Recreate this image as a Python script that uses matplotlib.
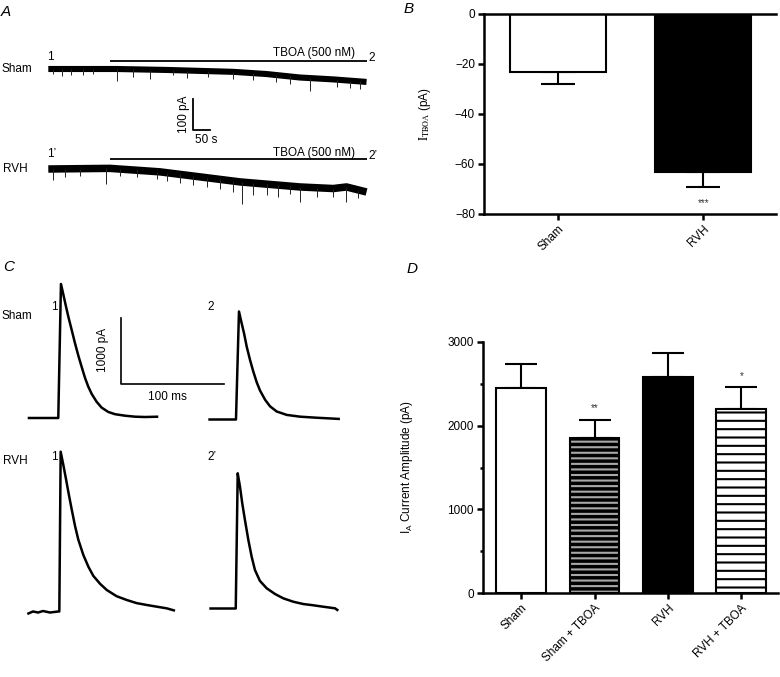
import numpy as np
import matplotlib
matplotlib.use('Agg')
import matplotlib.pyplot as plt

plt.rcParams['font.family'] = ['Liberation Sans', 'DejaVu Sans']
plt.rcParams['mathtext.fontset'] = 'custom'
plt.rcParams['mathtext.rm'] = 'Liberation Sans'
plt.rcParams['mathtext.it'] = 'Liberation Sans:italic'
plt.rcParams['hatch.linewidth'] = 1.5

# ------------------------------------------------------------------ data
# Panel A: holding current drift (time s, current pA relative to start)
a_sham_t = [0, 201, 348, 544, 642, 740, 838, 936]
a_sham_i = [0, 0, -3, -9, -16, -27, -33, -41]
a_rvh_t = [0, 181, 328, 446, 564, 740, 838, 877, 936]
a_rvh_i = [0, 2, -9, -25, -41, -57, -62, -57, -73]
# spontaneous inward events (time s, depth pA below the trace)
a_sham_spk_t = [15, 39, 67, 103, 132, 203, 248, 299, 368, 407, 470, 544, 603,
                671, 711, 769, 848, 887, 916]
a_sham_spk_d = [16, 23, 19, 19, 16, 39, 23, 30, 15, 23, 20, 22, 23, 23, 24,
                41, 23, 23, 24]
a_rvh_spk_t = [15, 49, 93, 170, 211, 260, 319, 348, 387, 426, 466, 505, 544,
               569, 603, 642, 676, 711, 740, 789, 838, 877, 911]
a_rvh_spk_d = [35, 25, 23, 48, 22, 22, 25, 27, 27, 30, 30, 30, 34, 69, 39, 35,
               38, 24, 48, 30, 27, 48, 27]
a_tboa_on, a_tboa_off = 181, 936

# Panel B: I_TBOA (pA)
b_groups = ['Sham', 'RVH']
b_mean = [-23, -63]
b_sem = [5, 6]

# Panel C: I_A current traces (time ms, current pA)
c_sham1_t = [0, 29.6, 32.2, 34.5, 36.8, 39.3, 42.6, 45.8, 49.0, 52.3, 55.5,
             58.7, 62.0, 66.8, 71.6, 78.0, 84.5, 94.2, 103.9, 113.6, 126.4]
c_sham1_i = [0, 0, 2040, 1880, 1715, 1545, 1339, 1137, 950, 775, 610, 475,
             365, 245, 158, 92, 58, 35, 20, 15, 20]
c_sham2_t = [0, 26.8, 29.7, 32.3, 34.6, 37.2, 40.4, 43.6, 46.9, 50.1, 55.0,
             59.8, 66.2, 75.9, 88.8, 104.9, 127.4]
c_sham2_i = [0, 0, 1644, 1464, 1312, 1108, 906, 728, 565, 440, 300, 200, 122,
             70, 43, 27, 8]
c_rvh1_t = [0, 5.5, 10.4, 15.2, 22.0, 30.0, 31.0, 32.3, 34.9, 37.5, 39.7,
            43.0, 46.2, 49.4, 54.2, 59.1, 63.9, 70.4, 76.9, 86.5, 96.2, 105.9,
            115.6, 125.3, 134.9, 143.0]
c_rvh1_i = [-30, 8, -8, 15, -8, 8, 8, 2440, 2237, 2020, 1830, 1560, 1310,
            1100, 870, 690, 550, 430, 335, 240, 183, 135, 107, 81, 56, 20]
c_rvh2_t = [0, 25.6, 27.5, 29.7, 31.9, 34.5, 37.8, 41.0, 44.2, 49.0, 55.6,
            63.6, 71.6, 81.3, 91.0, 100.7, 110.4, 121.7, 124.9]
c_rvh2_i = [0, 0, 2058, 1854, 1601, 1347, 1043, 788, 586, 420, 307, 221, 155,
            103, 68, 49, 27, 3, -33]

# Panel D: I_A current amplitude (pA)
d_groups = ['Sham', 'Sham + TBOA', 'RVH', 'RVH + TBOA']
d_mean = [2446, 1848, 2577, 2202]
d_sem = [286, 219, 287, 256]
d_sig = ['', '**', '', '*']

# ------------------------------------------------------------------ layout
W, H = 780, 677
fig = plt.figure(figsize=(W / 100, H / 100), dpi=100)


def fp(x, y):
    return x / W, 1 - y / H


def ftext(x, y, s, **kw):
    kw.setdefault('fontsize', 8.5)
    kw.setdefault('ha', 'left')
    kw.setdefault('va', 'center')
    fig.text(*fp(x, y), s, **kw)


# ---------------- Panel A
A_S = 50 / 17.0        # s per pixel
A_PA = 100 / 31.5      # pA per pixel
A_TOP, A_BOT = 30, 230
axA = fig.add_axes([0, 1 - A_BOT / H, 390 / W, (A_BOT - A_TOP) / H])
axA.set_xlim(0, 390 * A_S)
axA.set_ylim(0, (A_BOT - A_TOP) * A_PA)
axA.axis('off')


def a_xy(px, py):
    return px * A_S, (A_BOT - py) * A_PA


def a_trace(t, i, st, sd, ox, oy, lw):
    x0, y0 = a_xy(ox, oy)
    t = np.asarray(t, float)
    i = np.asarray(i, float)
    axA.plot(x0 + t, y0 + i, color='black', lw=lw, solid_capstyle='butt')
    st = np.asarray(st, float)
    base = np.interp(st, t, i)
    axA.vlines(x0 + st, y0 + base - np.asarray(sd, float), y0 + base,
               color='#222222', lw=0.7)


a_trace(a_sham_t, a_sham_i, a_sham_spk_t, a_sham_spk_d, 48.3, 69, 4.4)
a_trace(a_rvh_t, a_rvh_i, a_rvh_spk_t, a_rvh_spk_d, 48.3, 169, 5.4)

for oy, by in [(69, 60.7), (169, 159)]:
    x0, _ = a_xy(48.3, oy)
    _, yb = a_xy(0, by)
    axA.hlines(yb, x0 + a_tboa_on, x0 + a_tboa_off, color='black', lw=1.3)

# scale bar A (100 pA, 50 s)
sx, sy = a_xy(193.3, 130)
axA.plot([sx, sx, sx + 50], [sy + 100, sy, sy], color='black', lw=1.3)

ftext(6.3, 12, 'A', fontsize=11, style='italic', ha='center')
ftext(1, 69, 'Sham')
ftext(3, 169, 'RVH')
ftext(47, 57, '1')
ftext(368, 58, '2')
ftext(47, 154, '1\u2019')
ftext(368, 156, '2\u2019')
ftext(355, 53, 'TBOA (500 nM)', ha='right')
ftext(355, 153, 'TBOA (500 nM)', ha='right')
ftext(184, 114, '100 pA', rotation=90, ha='center')
ftext(206, 140, '50 s', ha='center')

# ---------------- Panel C
C_MS = 1 / 1.033   # ms per pixel
C_PA = 15.22       # pA per pixel
C_TOP, C_BOT = 262, 640
axC = fig.add_axes([0, 1 - C_BOT / H, 390 / W, (C_BOT - C_TOP) / H])
axC.set_xlim(0, 390 * C_MS)
axC.set_ylim(0, (C_BOT - C_TOP) * C_PA)
axC.axis('off')


def c_xy(px, py):
    return px * C_MS, (C_BOT - py) * C_PA


for t, i, ox, oy in [(c_sham1_t, c_sham1_i, 27.7, 418),
                     (c_sham2_t, c_sham2_i, 208.3, 419.5),
                     (c_rvh1_t, c_rvh1_i, 27.3, 612),
                     (c_rvh2_t, c_rvh2_i, 209.3, 608.5)]:
    x0, y0 = c_xy(ox, oy)
    axC.plot(x0 + np.asarray(t), y0 + np.asarray(i), color='black', lw=1.8,
             solid_joinstyle='round', solid_capstyle='butt')

cx, cy = c_xy(120.7, 384)
axC.plot([cx, cx, cx + 100], [cy + 1000, cy, cy], color='black', lw=1.2)

ftext(9, 267, 'C', fontsize=11, style='italic', ha='center')
ftext(1, 316, 'Sham')
ftext(3, 461, 'RVH')
ftext(51, 307, '1')
ftext(207, 307, '2')
ftext(51, 457, '1')
ftext(207, 457, '2\u2019')
ftext(103, 350, '1000 pA', rotation=90, ha='center')
ftext(167, 397, '100 ms', ha='center')

# ---------------- Panel B
SP_LW = 1.8
axB = fig.add_axes([484 / W, 1 - 214 / H, 292 / W, 200 / H])
xb = np.arange(len(b_groups))
axB.errorbar(xb, b_mean, yerr=[b_sem, [0] * len(b_sem)], fmt='none',
             ecolor='black', elinewidth=1.5, capsize=12.5, capthick=1.5,
             zorder=1)
axB.bar(xb, b_mean, width=0.66, color=['white', 'black'], edgecolor='black',
        linewidth=1.5, zorder=2)
axB.set_xlim(-0.51, 1.5)
axB.set_ylim(-80, 0)
axB.set_yticks([0, -20, -40, -60, -80])
axB.set_xticks(xb)
axB.set_xticklabels(b_groups, rotation=45, ha='right', rotation_mode='anchor')
axB.spines['right'].set_visible(False)
for s in ['left', 'top', 'bottom']:
    axB.spines[s].set_linewidth(SP_LW)
axB.tick_params(axis='both', width=SP_LW, length=4.5, labelsize=8.5,
                top=False, right=False, pad=2)
axB.set_ylabel(r'$\mathrm{I}_{\mathrm{TBOA}}$ (pA)', fontsize=8.5,
               math_fontfamily='stix')
axB.yaxis.set_label_coords(-0.175, 0.5)
axB.text(1, b_mean[1] - b_sem[1] - 6.5, '***', ha='center', va='center',
         fontsize=7, color='#333333')
ftext(409, 9, 'B', fontsize=11, style='italic', ha='center')

# ---------------- Panel D
axD = fig.add_axes([483 / W, 1 - 593 / H, 295 / W, 251 / H])
xd = np.arange(len(d_groups))
axD.errorbar(xd, d_mean, yerr=[[0] * len(d_sem), d_sem], fmt='none',
             ecolor='black', elinewidth=1.5, capsize=11.5, capthick=1.5,
             zorder=1)
# Sham
axD.bar(xd[0], d_mean[0], width=0.68, color='white', edgecolor='black',
        linewidth=1.5, zorder=2)
# Sham + TBOA: dense light stripes on black
axD.bar(xd[1], d_mean[1], width=0.68, color='black', edgecolor='#a8a8a8',
        hatch='---', linewidth=0, zorder=2)
axD.bar(xd[1], d_mean[1], width=0.68, color='none', edgecolor='black',
        linewidth=1.5, zorder=3)
# RVH
axD.bar(xd[2], d_mean[2], width=0.68, color='black', edgecolor='black',
        linewidth=1.5, zorder=2)
# RVH + TBOA: black stripes on white
axD.bar(xd[3], d_mean[3], width=0.68, color='white', edgecolor='black',
        hatch='--', linewidth=1.5, zorder=2)
for k, s in enumerate(d_sig):
    if s:
        axD.text(xd[k], d_mean[k] + d_sem[k] + 140, s, ha='center',
                 va='center', fontsize=7, color='#333333')
axD.set_xlim(-0.52, 3.5)
axD.set_ylim(0, 3000)
axD.set_yticks([0, 1000, 2000, 3000])
axD.set_yticks([500, 1500, 2500], minor=True)
axD.set_xticks(xd)
axD.set_xticklabels(d_groups, rotation=45, ha='right', rotation_mode='anchor')
axD.spines['right'].set_visible(False)
axD.spines['top'].set_visible(False)
for s in ['left', 'bottom']:
    axD.spines[s].set_linewidth(SP_LW)
axD.tick_params(axis='both', which='major', width=SP_LW, length=4.5,
                labelsize=8.5, pad=2)
axD.tick_params(axis='y', which='minor', width=SP_LW, length=2.5)
axD.set_ylabel(r'I$_{\mathrm{A}}$ Current Amplitude (pA)', fontsize=8.5)
axD.yaxis.set_label_coords(-0.23, 0.5)
ftext(412, 269, 'D', fontsize=11, style='italic', ha='center')

fig.savefig('out.png', dpi=100)
